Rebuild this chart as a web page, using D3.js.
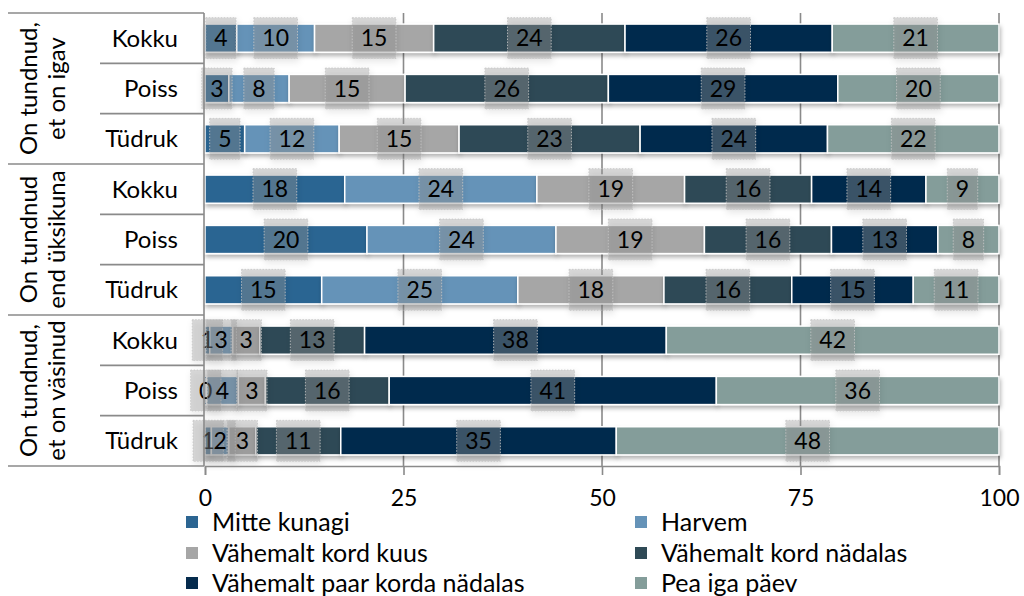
<!DOCTYPE html>
<html>
<head>
<meta charset="utf-8">
<script src="https://cdn.jsdelivr.net/npm/d3@7"></script>
<style>
  html, body { margin: 0; padding: 0; background: #fff; }
  svg { display: block; }
  text { font-family: Lato, "Open Sans", sans-serif; fill: #000; }
</style>
</head>
<body>
<svg id="chart" width="1024" height="596"></svg>
<script>
// ---- data ----
const groupLabels = [["On tundnud,", "et on igav"], ["On tundnud", "end üksikuna"], ["On tundnud,", "et on väsinud"]];
const rowLabels = ["Kokku", "Poiss", "Tüdruk", "Kokku", "Poiss", "Tüdruk", "Kokku", "Poiss", "Tüdruk"];
const seriesNames = ["Mitte kunagi", "Harvem", "Vähemalt kord kuus", "Vähemalt kord nädalas", "Vähemalt paar korda nädalas", "Pea iga päev"];
const mitteKunagi = [4.0, 3.0, 5.0, 17.6, 20.4, 14.7, 0.6, 0.2, 0.8];
const harvem      = [9.8, 7.6, 11.9, 24.2, 23.8, 24.7, 2.9, 4.0, 2.2];
const kordKuus    = [15.0, 14.6, 15.1, 18.6, 18.7, 18.4, 3.4, 3.4, 3.4];
const kordNadalas = [24.1, 25.6, 22.8, 16.0, 16.0, 16.1, 13.2, 15.6, 10.7];
const paarKorda   = [26.1, 28.9, 23.6, 14.4, 13.4, 15.3, 38.0, 41.2, 34.7];
const peaIgaPaev  = [21.0, 20.3, 21.6, 9.2, 7.7, 10.8, 41.9, 35.6, 48.2];
const xTicks = [0, 25, 50, 75, 100];
const colors = ["#2c6592", "#6593b8", "#a6a6a6", "#2f4a56", "#052b4d", "#849d9a"];

const seriesValues = [mitteKunagi, harvem, kordKuus, kordNadalas, paarKorda, peaIgaPaev];
const table = rowLabels.map((r, i) => {
  const o = { idx: i };
  seriesNames.forEach((s, j) => o[s] = seriesValues[j][i]);
  return o;
});

// ---- layout ----
const svg = d3.select("#chart");
const plotLeft = 205, plotRight = 999, plotTop = 13, plotBottom = 466;
const x = d3.scaleLinear().domain([0, 100]).range([plotLeft, plotRight]);
const y = d3.scaleBand().domain(d3.range(rowLabels.length)).range([plotTop, plotBottom])
  .paddingInner(0.44).paddingOuter(0.22);
const step = y.step();
const color = d3.scaleOrdinal().domain(seriesNames).range(colors);
const textSize = "24px", numSize = "23px", legSize = "25px";

const defs = svg.append("defs");
const f = defs.append("filter").attr("id", "shadow").attr("x", "-20%").attr("y", "-30%").attr("width", "140%").attr("height", "180%");
f.append("feDropShadow").attr("dx", 1).attr("dy", 3).attr("stdDeviation", 2.2).attr("flood-color", "#000").attr("flood-opacity", 0.3);
const f2 = defs.append("filter").attr("id", "lshadow").attr("x", "-40%").attr("y", "-40%").attr("width", "180%").attr("height", "200%");
f2.append("feDropShadow").attr("dx", 1).attr("dy", 3).attr("stdDeviation", 3).attr("flood-color", "#000").attr("flood-opacity", 0.22);

const lineColor = "#8a8a8a";

// gridlines
svg.append("g").selectAll("line").data(xTicks.filter(d => d > 0)).join("line")
  .attr("x1", d => x(d)).attr("x2", d => x(d))
  .attr("y1", plotTop).attr("y2", plotBottom)
  .attr("stroke", lineColor).attr("stroke-width", 1.6);

// stacked bars
const stack = d3.stack().keys(seriesNames);
const stacked = stack(table);

const barG = svg.append("g");
stacked.forEach(layer => {
  barG.append("g").attr("filter", "url(#shadow)")
    .selectAll("rect").data(layer).join("rect")
    .attr("x", d => x(d[0]))
    .attr("width", d => Math.max(0, x(d[1]) - x(d[0])))
    .attr("y", d => y(d.data.idx))
    .attr("height", y.bandwidth())
    .attr("fill", color(layer.key))
    .attr("stroke", "#fff").attr("stroke-width", 1.5);
});

// data labels
const fmt = d3.format(".0f");
const labG = svg.append("g");
stacked.forEach(layer => {
  layer.forEach(d => {
    const cx = x((d[0] + d[1]) / 2);
    const cy = y(d.data.idx) + y.bandwidth() / 2;
    const g = labG.append("g");
    const t = g.append("text").attr("x", cx).attr("y", cy).attr("dy", "0.36em")
      .attr("text-anchor", "middle").style("font-size", numSize).text(fmt(d[1] - d[0]));
    const w = t.node().getComputedTextLength() + 17;
    g.insert("rect", "text")
      .attr("x", cx - w / 2).attr("y", cy - 20.5).attr("width", w).attr("height", 41)
      .attr("fill", "rgba(150,150,150,0.36)")
      .attr("stroke", "#c4c4c4").attr("stroke-width", 0.8).attr("stroke-dasharray", "1.5,1.5")
      .attr("filter", "url(#lshadow)");
  });
});

// x axis
const xAxis = svg.append("g").attr("transform", `translate(0,${plotBottom})`)
  .call(d3.axisBottom(x).tickValues(xTicks).tickSize(9).tickPadding(15).tickFormat(d3.format("d")));
xAxis.select(".domain").attr("stroke", lineColor).attr("stroke-width", 1.6);
xAxis.selectAll(".tick line").attr("stroke", lineColor).attr("stroke-width", 1.6);
xAxis.selectAll(".tick text").style("font-size", numSize).style("font-family", "Lato, sans-serif").attr("fill", "#000");

// left table
const tbl = svg.append("g");
const tblLeft = 8, subLeft = 100;
tbl.append("line").attr("x1", plotLeft - 1).attr("x2", plotLeft - 1).attr("y1", plotTop).attr("y2", plotBottom)
  .attr("stroke", lineColor).attr("stroke-width", 1.6);
const rowBounds = d3.range(rowLabels.length + 1).map(i => plotTop + i * step);
tbl.selectAll("line.sep").data(rowBounds).join("line").attr("class", "sep")
  .attr("x1", (d, i) => i % 3 === 0 ? tblLeft : subLeft).attr("x2", plotLeft - 1)
  .attr("y1", d => d).attr("y2", d => d)
  .attr("stroke", lineColor).attr("stroke-width", 1.6);

tbl.selectAll("text.row").data(rowLabels).join("text").attr("class", "row")
  .attr("x", 178).attr("y", (d, i) => y(i) + y.bandwidth() / 2).attr("dy", "0.36em")
  .attr("text-anchor", "end").style("font-size", textSize).text(d => d);

groupLabels.forEach((lines, gi) => {
  const cy = plotTop + (gi * 3 + 1.5) * step;
  lines.forEach((ln, li) => {
    tbl.append("text")
      .attr("transform", `translate(${li === 0 ? 37 : 65},${cy}) rotate(-90)`)
      .attr("text-anchor", "middle").style("font-size", textSize).text(ln);
  });
});

// legend
const legG = svg.append("g");
const legPos = [[186, 522], [635, 522], [186, 553], [635, 553], [186, 583], [635, 583]];
seriesNames.forEach((s, i) => {
  const [lx, ly] = legPos[i];
  legG.append("rect").attr("x", lx).attr("y", ly - 6).attr("width", 12).attr("height", 12).attr("fill", color(s));
  legG.append("text").attr("x", lx + 26).attr("y", ly).attr("dy", "0.36em").style("font-size", legSize).text(s);
});
</script>
</body>
</html>
